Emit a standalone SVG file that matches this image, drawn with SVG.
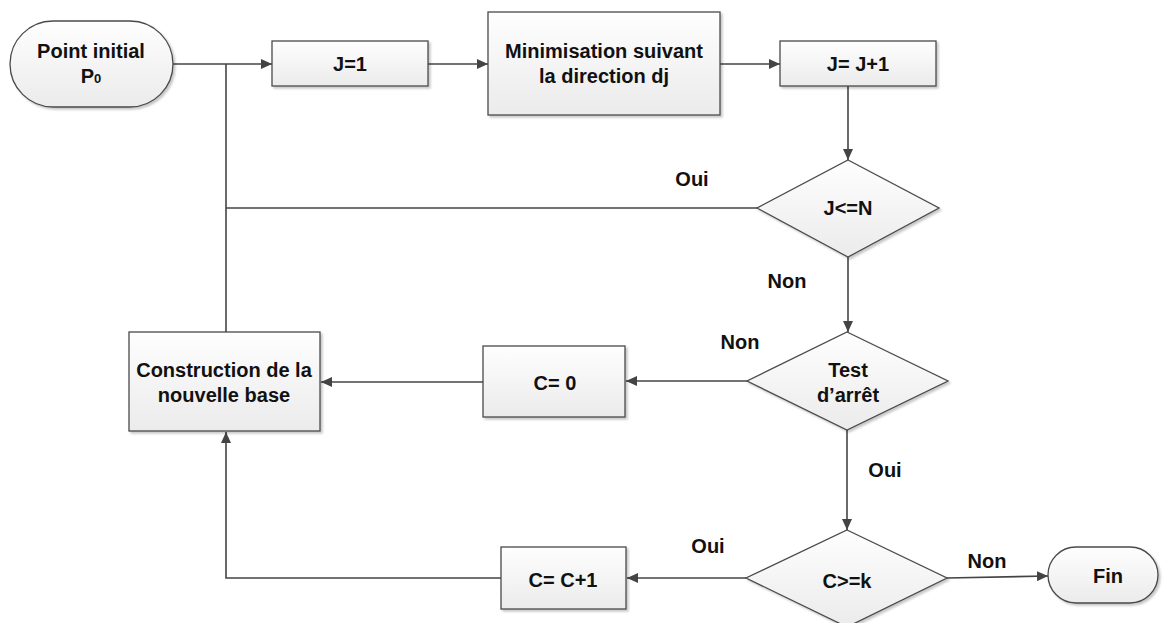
<svg xmlns="http://www.w3.org/2000/svg" width="1163" height="623" viewBox="0 0 1163 623">
  <style>
    .shape { fill: url(#fillGrad); stroke: #4a4a4a; stroke-width: 1.3; filter: url(#shadow); }
    .label { font-family: "Liberation Sans", Arial, sans-serif; font-size: 20px; font-weight: bold; fill: #111; text-anchor: middle; }
    .edge { fill: none; stroke: #444; stroke-width: 1.6; }
    .arrow { marker-end: url(#arrowHead); }
  </style>
  <defs>
    <linearGradient id="fillGrad" x1="0" y1="0" x2="0" y2="1">
      <stop offset="0" stop-color="#fefefe"/>
      <stop offset="1" stop-color="#ebebeb"/>
    </linearGradient>
    <filter id="shadow" x="-10%" y="-10%" width="130%" height="130%">
      <feDropShadow dx="2" dy="2" stdDeviation="1.2" flood-color="#000" flood-opacity="0.22"/>
    </filter>
    <marker id="arrowHead" markerUnits="userSpaceOnUse" markerWidth="12" markerHeight="10" refX="11" refY="5" orient="auto">
      <path d="M0,0 L11,5 L0,10 z" fill="#444"/>
    </marker>
  </defs>

  <rect width="1163" height="623" fill="#fff"/>

  <!-- connectors -->
  <g id="connectors">
    <path class="edge arrow" d="M173,64 H272"/>
    <path class="edge arrow" d="M428,64 H488"/>
    <path class="edge arrow" d="M720,64 H780"/>
    <path class="edge arrow" d="M848,86 V160"/>
    <path class="edge" d="M757,208 H226"/>
    <path class="edge" d="M226,332 V64"/>
    <path class="edge arrow" d="M848,257 V332"/>
    <path class="edge arrow" d="M747,381 H626"/>
    <path class="edge arrow" d="M483,382 H321"/>
    <path class="edge arrow" d="M847,430 V530"/>
    <path class="edge arrow" d="M746,578 H627"/>
    <path class="edge arrow" d="M501,578 H226 V432"/>
    <path class="edge arrow" d="M947,578 L1048,576"/>
  </g>

  <!-- edge labels -->
  <g id="edge-labels">
    <text class="label" x="692" y="186">Oui</text>
    <text class="label" x="787" y="288">Non</text>
    <text class="label" x="740" y="349">Non</text>
    <text class="label" x="885" y="477">Oui</text>
    <text class="label" x="708" y="553">Oui</text>
    <text class="label" x="987" y="568">Non</text>
  </g>

  <!-- nodes -->
  <g id="start">
    <rect class="shape" x="10" y="21" width="163" height="86" rx="43" ry="43"/>
    <text class="label" x="91" y="58">Point initial</text>
    <text class="label" x="91" y="83">P<tspan font-size="13">0</tspan></text>
  </g>

  <g id="init-j">
    <rect class="shape" x="272" y="41" width="156" height="45"/>
    <text class="label" x="350" y="71">J=1</text>
  </g>

  <g id="minimisation">
    <rect class="shape" x="488" y="12" width="232" height="103"/>
    <text class="label" x="604" y="58">Minimisation suivant</text>
    <text class="label" x="604" y="83">la direction dj</text>
  </g>

  <g id="increment-j">
    <rect class="shape" x="780" y="41" width="156" height="45"/>
    <text class="label" x="858" y="71">J= J+1</text>
  </g>

  <g id="test-j">
    <polygon class="shape" points="848,160 939,208 848,257 757,208"/>
    <text class="label" x="848" y="215">J&lt;=N</text>
  </g>

  <g id="test-stop">
    <polygon class="shape" points="847,332 948,381 847,430 747,381"/>
    <text class="label" x="848" y="377">Test</text>
    <text class="label" x="848" y="402">d’arrêt</text>
  </g>

  <g id="reset-c">
    <rect class="shape" x="483" y="346" width="142" height="71"/>
    <text class="label" x="555" y="390">C= 0</text>
  </g>

  <g id="new-basis">
    <rect class="shape" x="129" y="332" width="191" height="99"/>
    <text class="label" x="224" y="377">Construction de la</text>
    <text class="label" x="224" y="402">nouvelle base</text>
  </g>

  <g id="test-c">
    <polygon class="shape" points="847,530 947,578 847,627 746,578"/>
    <text class="label" x="847" y="588">C&gt;=k</text>
  </g>

  <g id="increment-c">
    <rect class="shape" x="501" y="547" width="125" height="62"/>
    <text class="label" x="563" y="587">C= C+1</text>
  </g>

  <g id="end">
    <rect class="shape" x="1048" y="547" width="110" height="56" rx="28" ry="28"/>
    <text class="label" x="1108" y="583">Fin</text>
  </g>
</svg>
